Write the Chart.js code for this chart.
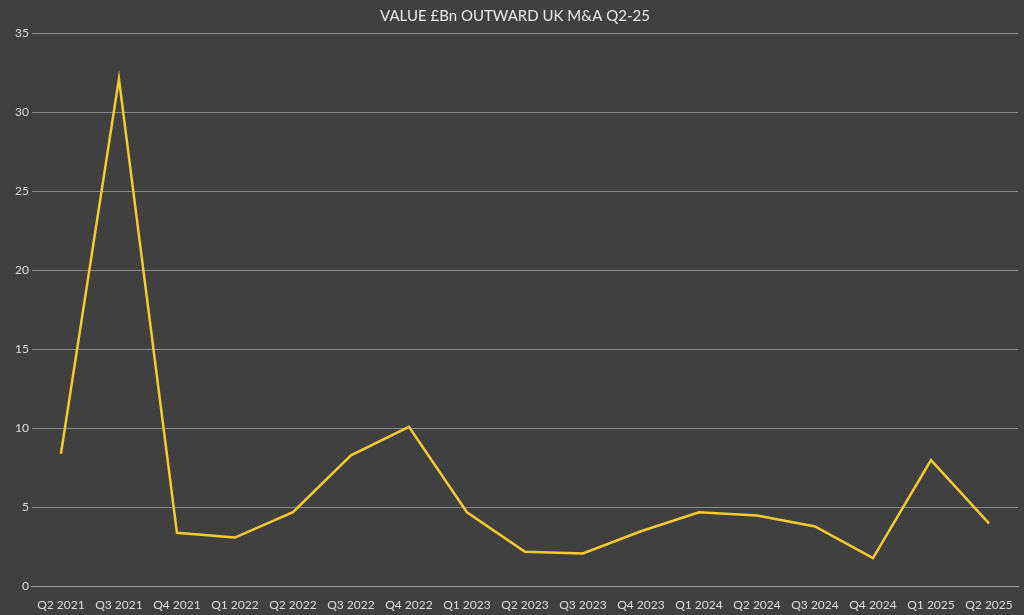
<!DOCTYPE html>
<html>
<head>
<meta charset="utf-8">
<script src="https://cdn.jsdelivr.net/npm/chart.js@4"></script>
<style>
  html, body { margin: 0; padding: 0; background: #404040; }
  #wrap { width: 1024px; height: 615px; }
</style>
</head>
<body>
<div id="wrap"><canvas id="myChart" width="1024" height="615"></canvas></div>
<script>
// Quarter labels
const quarters = ['Q2 2021', 'Q3 2021', 'Q4 2021', 'Q1 2022', 'Q2 2022', 'Q3 2022', 'Q4 2022',
    'Q1 2023', 'Q2 2023', 'Q3 2023', 'Q4 2023', 'Q1 2024', 'Q2 2024', 'Q3 2024', 'Q4 2024',
    'Q1 2025', 'Q2 2025'];
// Value in £Bn
const values = [8.4, 32.1, 3.4, 3.1, 4.7, 8.3, 10.1, 4.7, 2.2, 2.1, 3.5, 4.7, 4.5, 3.8, 1.8, 8.0, 4.0];

const ctx = document.getElementById('myChart').getContext('2d');
new Chart(ctx, {
    type: 'line',
    data: {
        labels: quarters,
        datasets: [{
            label: 'Value',
            data: values,
            borderColor: '#F5CB2E',
            borderWidth: 2.5,
            pointRadius: 0,
            tension: 0,
            fill: false
        }]
    },
    options: {
        responsive: false,
        animation: false,
        layout: { padding: { left: 12, right: 6, top: 5, bottom: 0 } },
        plugins: {
            legend: { display: false },
            title: {
                display: true,
                text: 'VALUE £Bn OUTWARD UK M&A Q2-25',
                color: '#e8e8e8',
                font: { family: 'Lato', size: 15, weight: 'normal' },
                padding: { top: 2, bottom: 8 }
            }
        },
        scales: {
            x: {
                offset: true,
                grid: { display: false },
                border: { color: '#9a9a9a' },
                ticks: { color: '#dddddd', font: { family: 'Lato', size: 12 }, maxRotation: 0, autoSkip: false }
            },
            y: {
                min: 0,
                max: 35,
                ticks: { stepSize: 5, color: '#dddddd', font: { family: 'Lato', size: 12 } },
                grid: { color: '#8a8a8a', drawTicks: false },
                border: { display: false }
            }
        }
    }
});
</script>
</body>
</html>
